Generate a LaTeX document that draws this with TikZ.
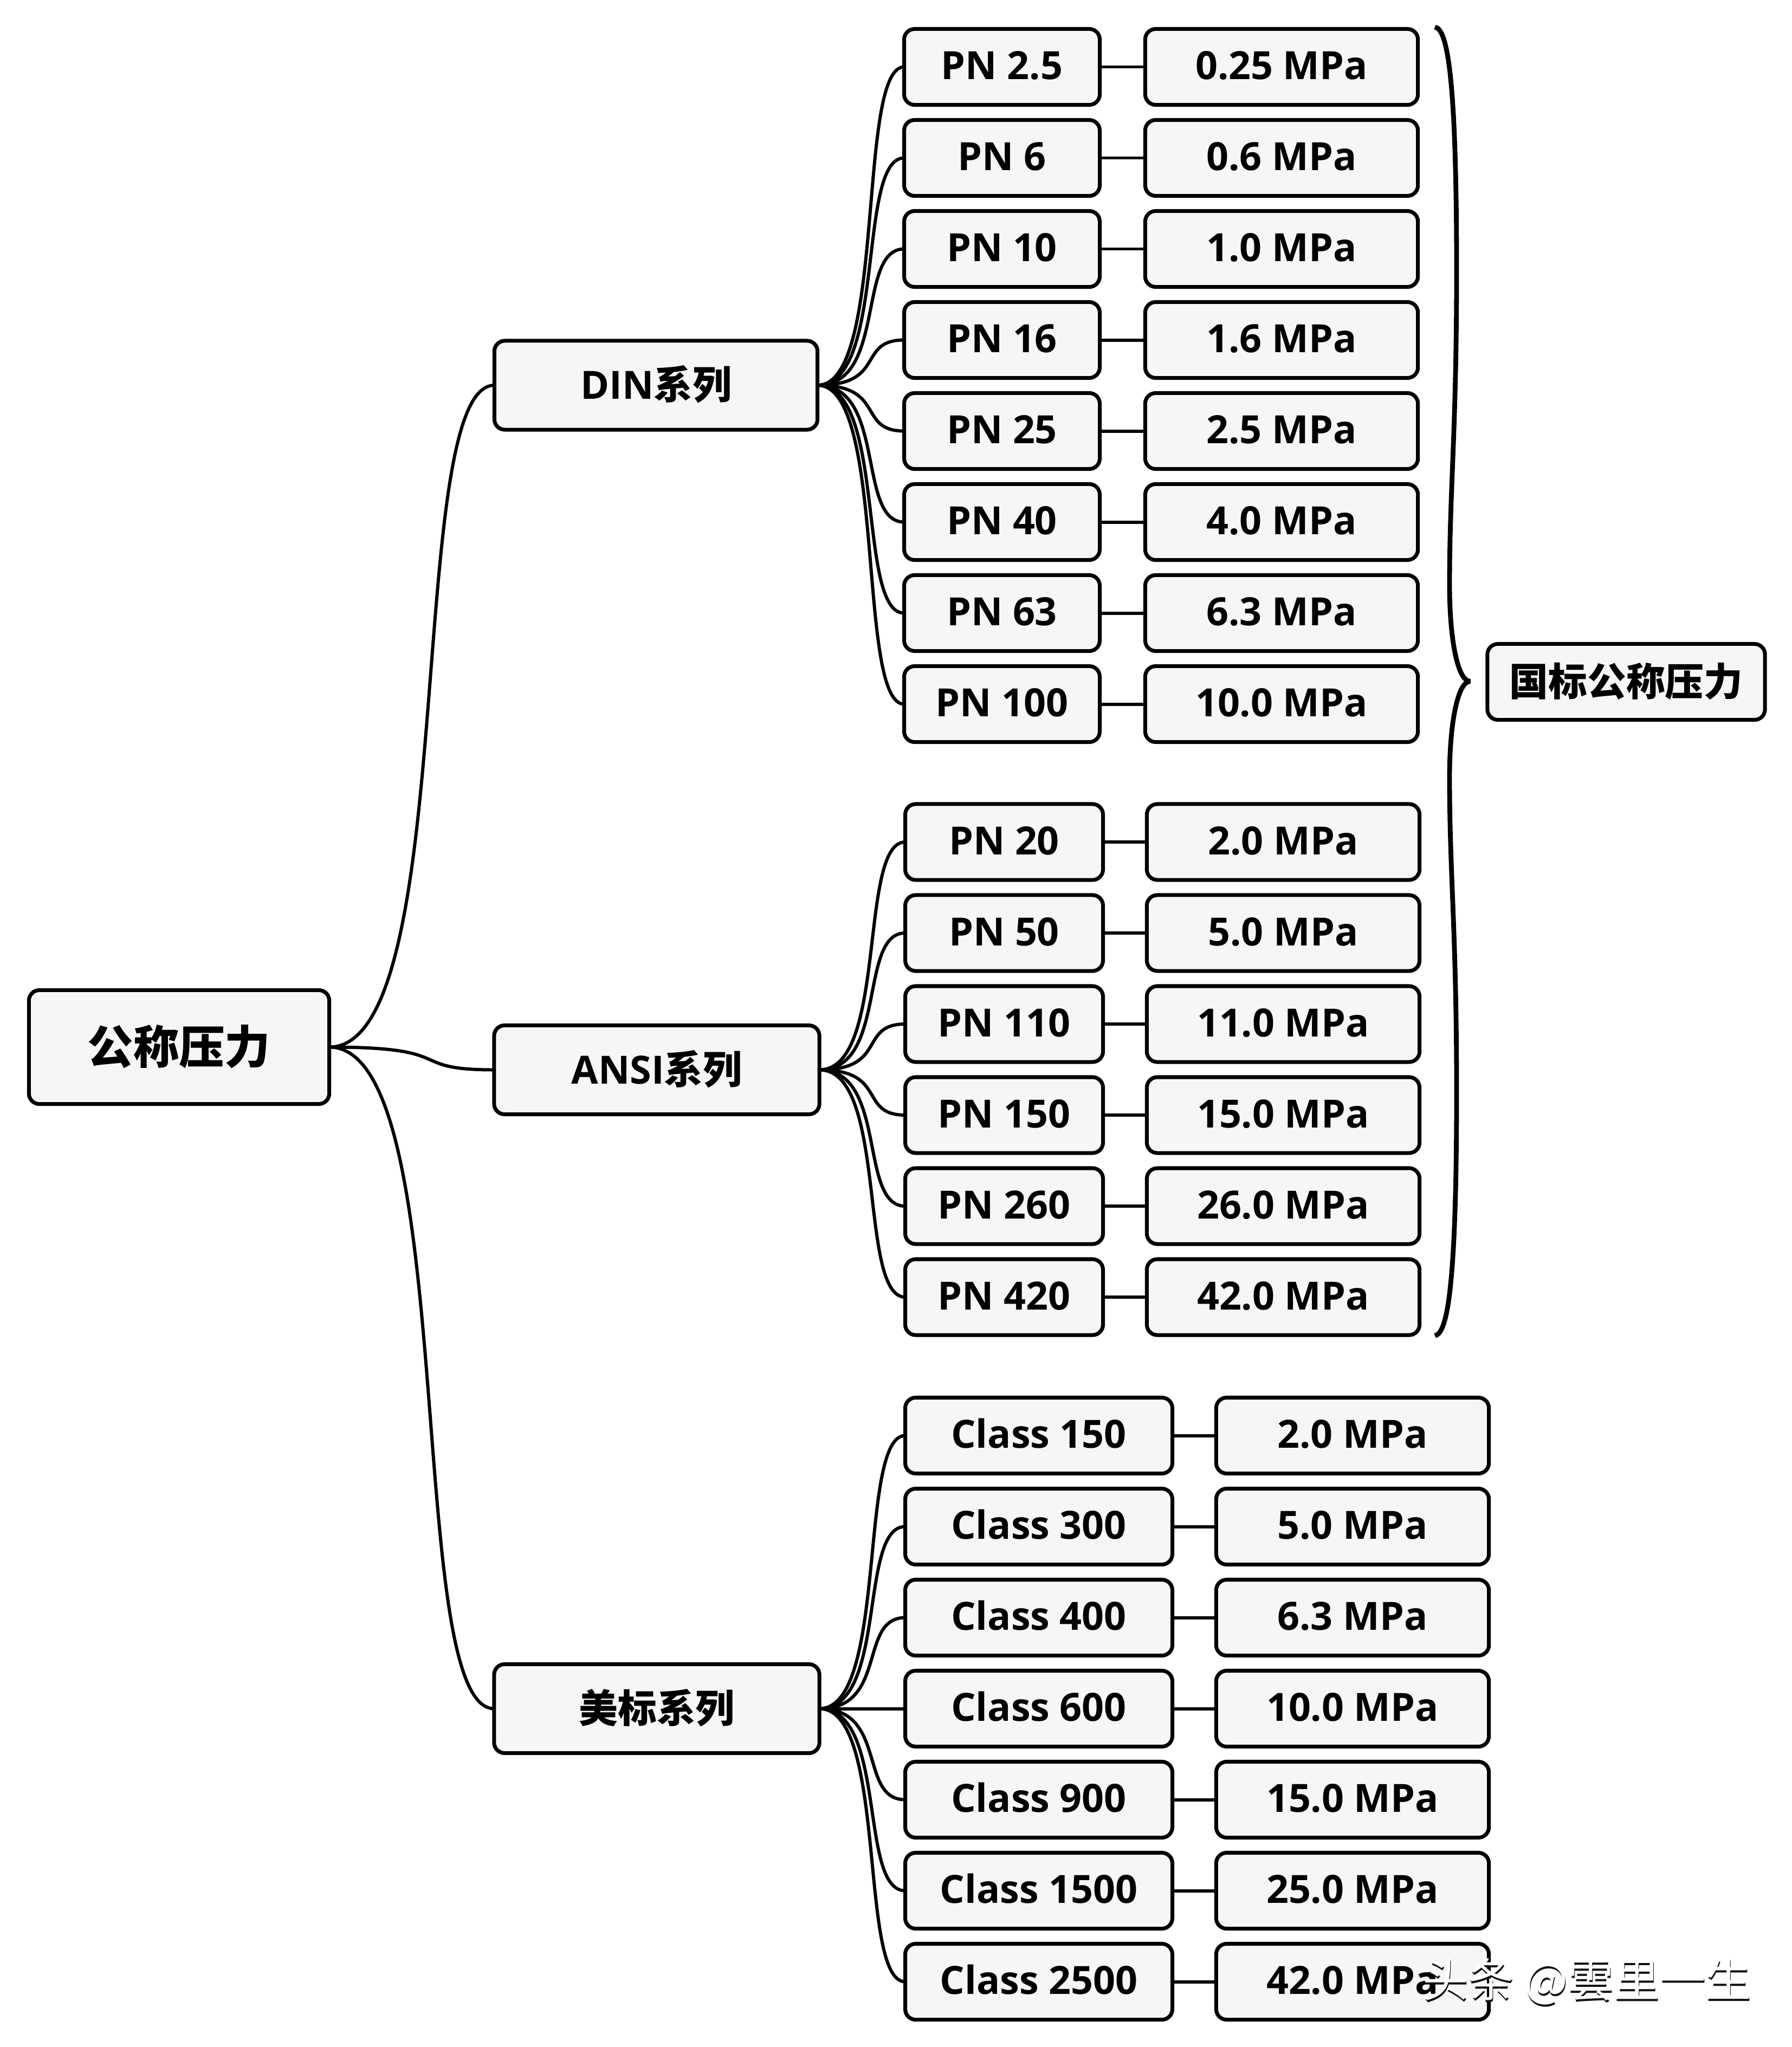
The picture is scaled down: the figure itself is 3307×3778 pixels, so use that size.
\documentclass[tikz,border=0pt]{standalone}
\usepackage{fontspec}
\setmainfont{Open Sans}
\newfontfamily\cjk{Noto Sans CJK SC}
\usetikzlibrary{calc}
\definecolor{boxfill}{HTML}{F6F6F6}
\definecolor{wmdark}{HTML}{111111}
\tikzset{
  x=0.01cm,y=-0.01cm,
  boxbase/.style={draw=black,fill=boxfill,line width=2pt,rounded corners=5.5pt,inner sep=0pt,outer sep=0pt,align=center,font=\fontsize{20.4}{25}\selectfont\bfseries,text=black,text height=0.52cm,text depth=0.06cm},
  leaf/.style={boxbase,minimum height=1.40cm},
  branch/.style={boxbase,minimum height=1.64cm,text depth=0.01cm},
  rootbox/.style={boxbase,minimum height=2.10cm,minimum width=5.54cm,font=\fontsize{24}{28}\selectfont\bfseries,text height=0.62cm,text depth=0.01cm},
  conn/.style={draw=black,line width=1.7pt},
  bracecurve/.style={draw=black,line width=2.5pt,line join=bevel},
  wm/.style={inner sep=0pt,outer sep=0pt,anchor=west,font=\fontsize{24.1}{28}\cjk},
}
% S-shaped connector between the east of #1 and the west of #2
\newcommand{\scurve}[2]{%
  \coordinate (ca) at ($(#1.east)!.8!(#2.west)$);
  \coordinate (cb) at ($(#1.east)!.45!(#2.west)$);
  \draw[conn] (#1.east) .. controls (ca |- #1.east) and (cb |- #2.west) .. (#2.west);
}
% one row: name, y, col-1 centre, col-1 width, col-2 centre, col-1 text, col-2 text, parent
\newcommand{\row}[8]{%
  \node[leaf,minimum width=#4*0.01cm] (#1a) at (#3,#2) {#6};
  \node[leaf,minimum width=5.03cm] (#1b) at (#5,#2) {#7};
  \draw[conn] (#1a.east) -- (#1b.west);
  \scurve{#8}{#1a}
}
\begin{document}
\begin{tikzpicture}
\useasboundingbox (0,0) rectangle (3307,3778);
\fill[white] (0,0) rectangle (3307,3778);

\node[rootbox] (root) at (330.5,1932.5) {{\cjk 公称压力}};
\node[branch,minimum width=5.96cm] (din) at (1210.5,711) {DIN{\cjk 系列}};
\node[branch,minimum width=6.00cm] (ansi) at (1212,1974.5) {ANSI{\cjk 系列}};
\node[branch,minimum width=6.00cm] (meibiao) at (1212,3153.5) {{\cjk 美标系列}};
\scurve{root}{din}
\scurve{root}{ansi}
\scurve{root}{meibiao}

\row{da}{123.5}{1849}{361}{2365}{PN 2.5}{0.25 MPa}{din}
\row{db}{291.5}{1849}{361}{2365}{PN 6}{0.6 MPa}{din}
\row{dc}{459.5}{1849}{361}{2365}{PN 10}{1.0 MPa}{din}
\row{dd}{627.5}{1849}{361}{2365}{PN 16}{1.6 MPa}{din}
\row{de}{795.5}{1849}{361}{2365}{PN 25}{2.5 MPa}{din}
\row{df}{963.5}{1849}{361}{2365}{PN 40}{4.0 MPa}{din}
\row{dg}{1131.5}{1849}{361}{2365}{PN 63}{6.3 MPa}{din}
\row{dh}{1299.5}{1849}{361}{2365}{PN 100}{10.0 MPa}{din}

\row{aa}{1554}{1853}{365}{2368}{PN 20}{2.0 MPa}{ansi}
\row{ab}{1722}{1853}{365}{2368}{PN 50}{5.0 MPa}{ansi}
\row{ac}{1890}{1853}{365}{2368}{PN 110}{11.0 MPa}{ansi}
\row{ad}{2058}{1853}{365}{2368}{PN 150}{15.0 MPa}{ansi}
\row{ae}{2226}{1853}{365}{2368}{PN 260}{26.0 MPa}{ansi}
\row{af}{2394}{1853}{365}{2368}{PN 420}{42.0 MPa}{ansi}

\row{ma}{2649.5}{1917}{493}{2496}{Class 150}{2.0 MPa}{meibiao}
\row{mb}{2817.5}{1917}{493}{2496}{Class 300}{5.0 MPa}{meibiao}
\row{mc}{2985.5}{1917}{493}{2496}{Class 400}{6.3 MPa}{meibiao}
\row{md}{3153.5}{1917}{493}{2496}{Class 600}{10.0 MPa}{meibiao}
\row{me}{3321.5}{1917}{493}{2496}{Class 900}{15.0 MPa}{meibiao}
\row{mf}{3489.5}{1917}{493}{2496}{Class 1500}{25.0 MPa}{meibiao}
\row{mg}{3657.5}{1917}{493}{2496}{Class 2500}{42.0 MPa}{meibiao}

\node[leaf,minimum width=5.12cm,text depth=0.01cm] (gb) at (3001,1258.5) {{\cjk 国标公称压力}};

\coordinate (bracetop) at (2648,50);
\coordinate (bracetip) at (2713,1257.5);
\coordinate (bracebot) at (2648,2465);
\draw[bracecurve] (bracetop)
  .. controls (2672,53) and (2688,150) .. (2688,500)
  .. controls (2688,800) and (2675,900) .. (2675,1080)
  .. controls (2675,1180) and (2690,1257.5) .. (bracetip)
  .. controls (2690,1257.5) and (2675,1335) .. (2675,1435)
  .. controls (2675,1615) and (2688,1715) .. (2688,2015)
  .. controls (2688,2365) and (2672,2462) .. (bracebot);

\node[wm,text=wmdark] (wmshadow) at (2626,3661) {头条 @雲里一生};
\node[wm,text=white] (wmtext) at (2625,3657) {头条 @雲里一生};
\end{tikzpicture}
\end{document}
